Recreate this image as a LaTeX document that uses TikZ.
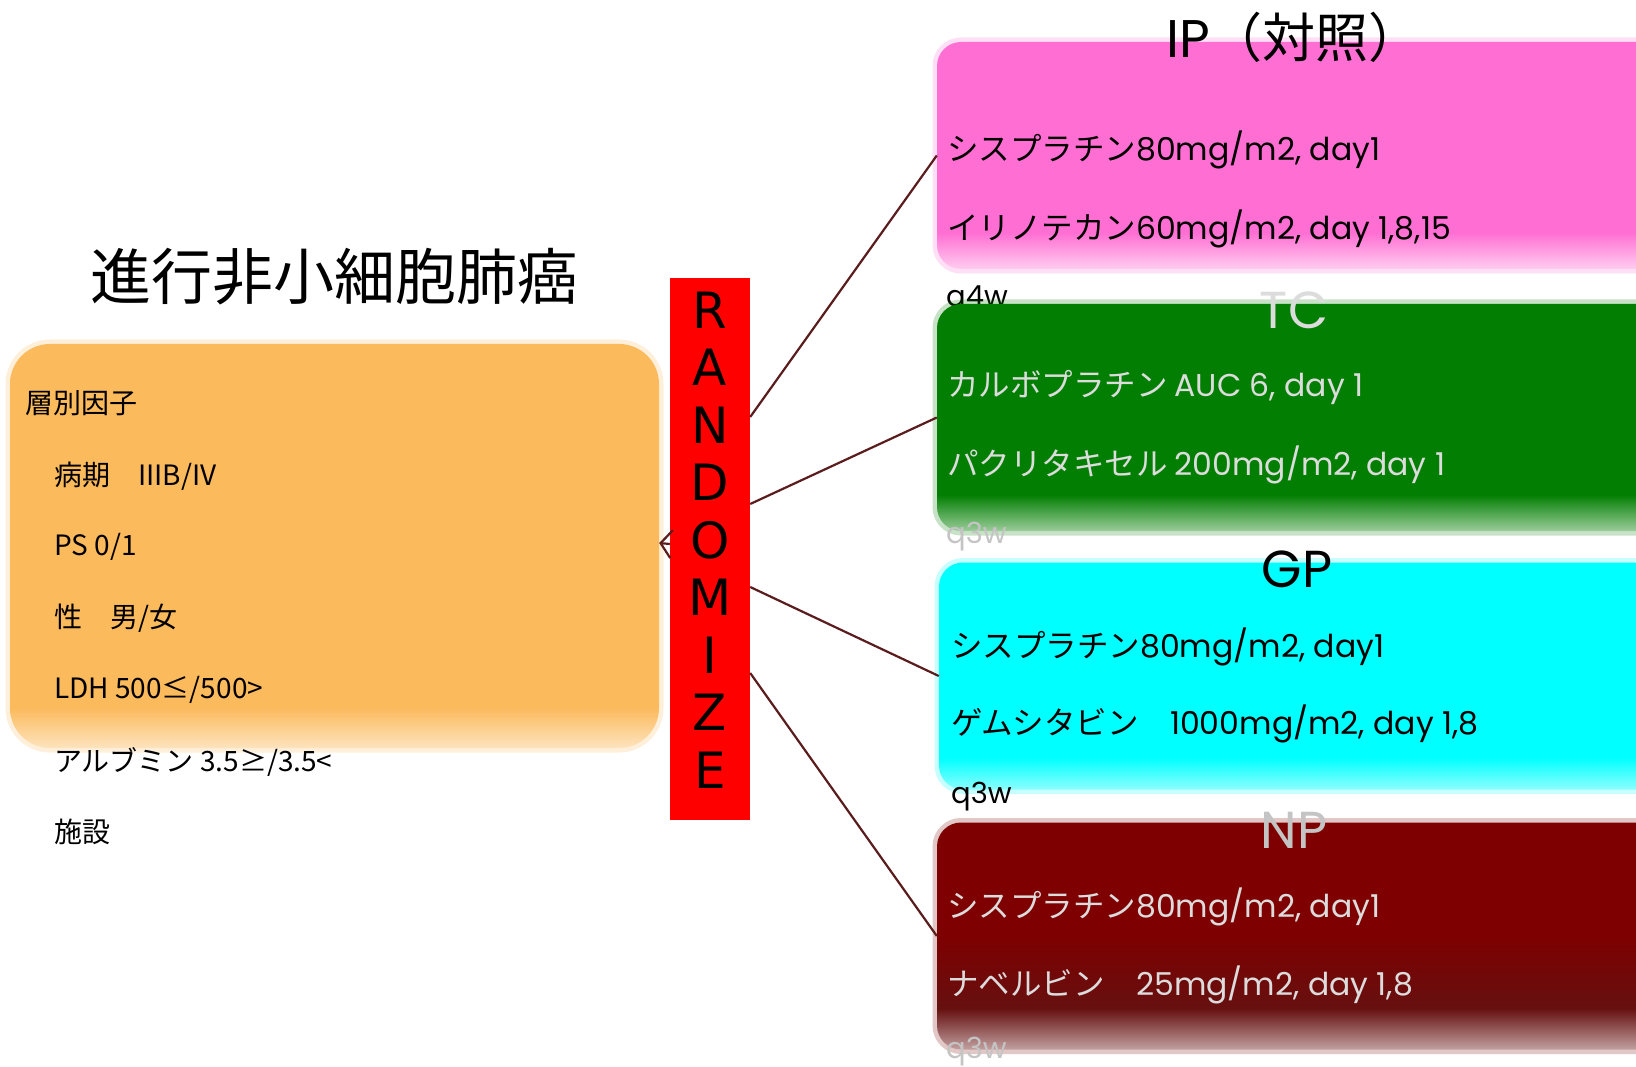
\documentclass[tikz,border=0pt]{standalone}
\usepackage{fontspec}
\setmainfont{Noto Sans CJK JP}
\newfontfamily\pop{Poppins}
\newfontfamily\dv{DejaVu Sans}
\usetikzlibrary{arrows.meta,calc}
\definecolor{cpink}{HTML}{FF6FD3}
\definecolor{cgreen}{HTML}{027F02}
\definecolor{ccyan}{HTML}{00FFFF}
\definecolor{cdred}{HTML}{7E0000}
\definecolor{cdredb}{HTML}{661010}
\definecolor{corange}{HTML}{FBBA5C}
\definecolor{cred}{HTML}{FF0000}
\definecolor{cconn}{HTML}{5A1C1C}
\definecolor{lgray}{HTML}{DCDCDC}
\definecolor{mgray}{HTML}{C4C4C4}
\colorlet{pinkl}{cpink!35!white}
\colorlet{greenl}{cgreen!40!white}
\colorlet{cyanl}{ccyan!45!white}
\colorlet{dredl}{cdredb!40!white}
\colorlet{orangel}{corange!40!white}
\pgfdeclareverticalshading{fadepink}{100bp}{color(0bp)=(pinkl); color(25bp)=(pinkl); color(33bp)=(cpink); color(100bp)=(cpink)}
\pgfdeclareverticalshading{fadegreen}{100bp}{color(0bp)=(greenl); color(25bp)=(greenl); color(33bp)=(cgreen); color(100bp)=(cgreen)}
\pgfdeclareverticalshading{fadecyan}{100bp}{color(0bp)=(cyanl); color(25bp)=(cyanl); color(32bp)=(ccyan); color(100bp)=(ccyan)}
\pgfdeclareverticalshading{fadedred}{100bp}{color(0bp)=(dredl); color(25bp)=(dredl); color(34bp)=(cdredb); color(50bp)=(cdred); color(100bp)=(cdred)}
\pgfdeclareverticalshading{fadeorange}{100bp}{color(0bp)=(orangel); color(25bp)=(orangel); color(30bp)=(corange); color(100bp)=(corange)}
\begin{document}
\begin{tikzpicture}[x=1pt,y=-1pt,
  softbox/.style={rounded corners=#1, inner sep=0pt, draw=none},
  glow/.style={preaction={draw=#1, line width=9pt, draw opacity=0.22}},
  armbox/.style={softbox=24pt, minimum width=723pt, minimum height=227pt, shade},
  txt/.style={inner sep=0pt, anchor=west},
  lefttxt/.style={txt, font=\fontsize{28}{30}\selectfont},
  armtxt/.style={txt, font=\fontsize{31.5}{33}\selectfont},
  armtitle/.style={inner sep=0pt, font=\pop\fontsize{52}{54}\selectfont},
  qtxt/.style={txt, font=\pop\fontsize{29}{31}\selectfont},
  conn/.style={draw=cconn, line width=2.2pt}
]
\useasboundingbox[fill=white] (0,0) rectangle (1636,1067);

% left title
\node[inner sep=0pt, font=\fontsize{61}{63}\selectfont] (title) at (334,277) {進行非小細胞肺癌};

% orange context box
\node[softbox=40pt, glow=corange, shade, shading=fadeorange, minimum width=649pt, minimum height=404pt] (ctx) at (334.5,546) {};
\node[lefttxt] (s0) at (25,403) {層別因子};
\node[lefttxt] (s1) at (54,476) {病期　IIIB/IV};
\node[lefttxt] (s2) at (54,547) {PS 0/1};
\node[lefttxt] (s3) at (54,618) {性　男/女};
\node[lefttxt] (s4) at (54,690) {LDH 500≤/500>};
\node[lefttxt] (s5) at (54,762) {アルブミン 3.5≥/3.5<};
\node[lefttxt] (s6) at (54,832) {施設};

% IP arm
\node[armbox, glow=cpink, shading=fadepink] (ip) at (1298.5,155.5) {};
\node[armtitle, font=\fontsize{53}{55}\selectfont] (iph) at (1294,37) {{\pop IP}（対照）};
\node[armtxt] (ip1) at (947,150) {シスプラチン{\pop 80mg/m2, day1}};
\node[armtxt] (ip2) at (947,229) {イリノテカン{\pop 60mg/m2, day 1,8,15}};
\node[qtxt] (ipq) at (946,300) {q4w};

% TC arm
\node[armbox, glow=cgreen, shading=fadegreen] (tc) at (1298.5,417.5) {};
\node[armtitle, text=lgray] (tch) at (1294,310) {TC};
\node[armtxt, text=lgray] (tc1) at (947,387) {カルボプラチン {\pop AUC 6, day 1}};
\node[armtxt, text=lgray] (tc2) at (947,465) {パクリタキセル {\pop 200mg/m2, day 1}};
\node[qtxt, text=mgray] (tcq) at (946,537) {q3w};

% GP arm
\node[armbox, glow=ccyan, shading=fadecyan] (gp) at (1300.5,676) {};
\node[armtitle] (gph) at (1297,569) {GP};
\node[armtxt] (gp1) at (951,647) {シスプラチン{\pop 80mg/m2, day1}};
\node[armtxt] (gp2) at (951,724) {ゲムシタビン　{\pop 1000mg/m2, day 1,8}};
\node[qtxt] (gpq) at (951,797) {q3w};

% NP arm
\node[armbox, glow=cdred, shading=fadedred] (np) at (1298.5,936) {};
\node[armtitle, text=mgray] (nph) at (1294,830) {NP};
\node[armtxt, text=lgray] (np1) at (947,907) {シスプラチン{\pop 80mg/m2, day1}};
\node[armtxt, text=lgray] (np2) at (947,985) {ナベルビン　{\pop 25mg/m2, day 1,8}};
\node[qtxt, text=mgray] (npq) at (946,1052) {q3w};

% randomize bar
\node[fill=cred, inner sep=0pt, minimum width=80pt, minimum height=542pt] (rand) at (710,549) {};
\node[inner sep=0pt, align=center, font=\dv\fontsize{50}{57.5}\selectfont] (randtxt) at (710,540)
      {R\\A\\N\\D\\O\\M\\I\\Z\\E};

% connectors
\draw[conn] ([yshift=132pt]rand.east) -- (ip.west);
\draw[conn] ([yshift=45pt]rand.east) -- (tc.west);
\draw[conn] ([yshift=-38pt]rand.east) -- (gp.west);
\draw[conn] ([yshift=-124pt]rand.east) -- (np.west);
\draw[conn, -{Straight Barb[length=11pt,width=28pt]}] ([yshift=5pt]rand.west) -- ([yshift=3pt]ctx.east);
\end{tikzpicture}
\end{document}
